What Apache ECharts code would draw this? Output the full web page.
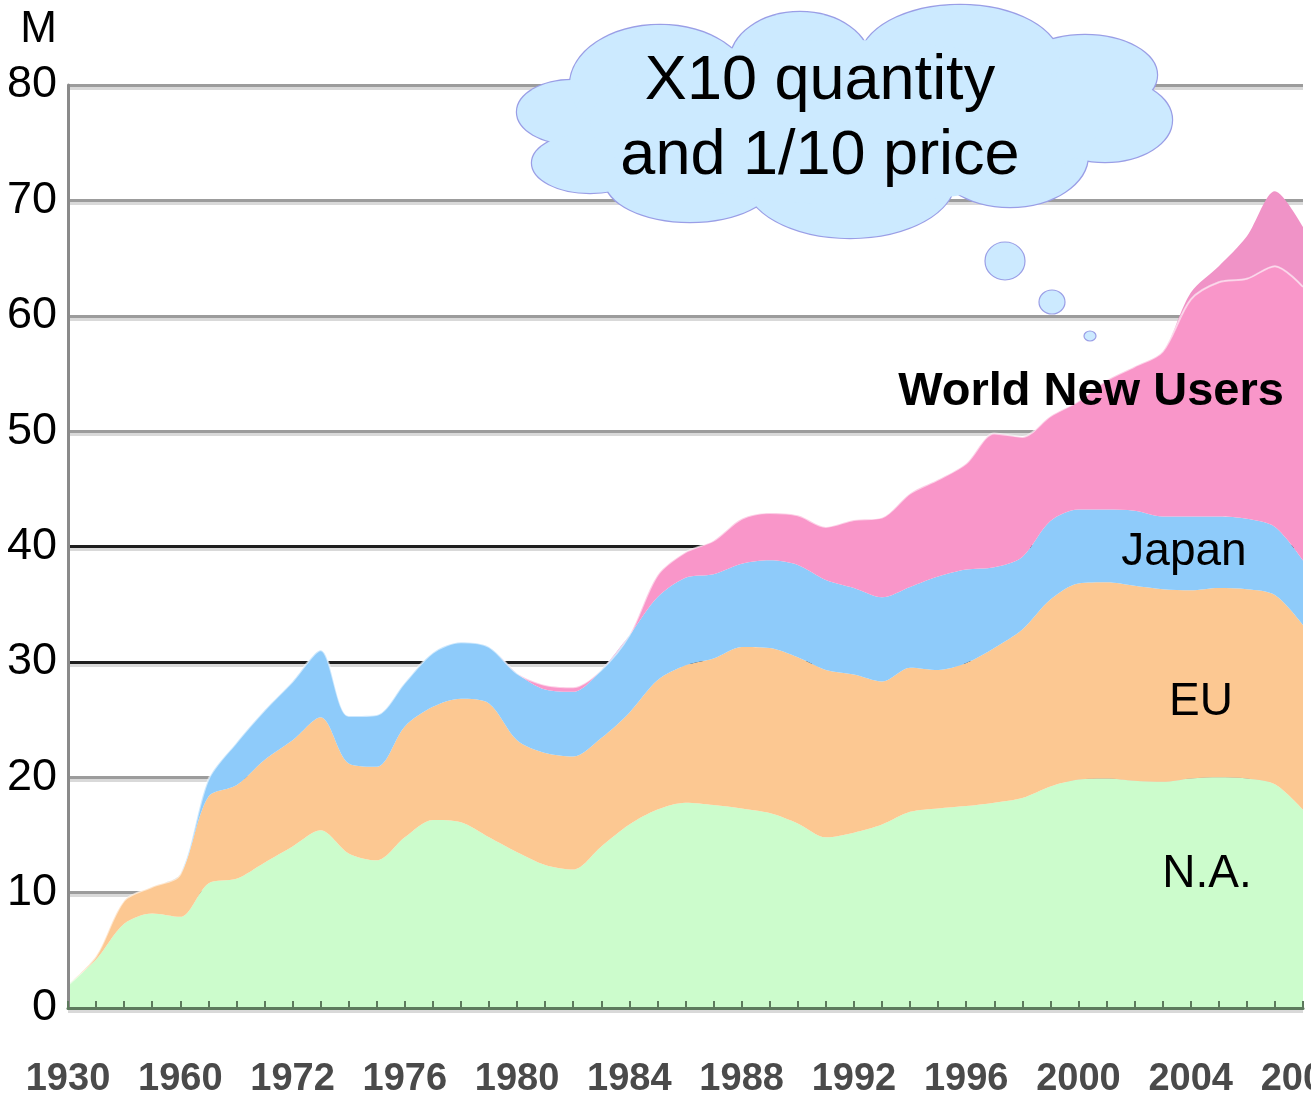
<!DOCTYPE html>
<html>
<head>
<meta charset="utf-8">
<script src="https://cdn.jsdelivr.net/npm/echarts@6/dist/echarts.min.js"></script>
<style>
html,body{margin:0;padding:0;background:#ffffff;}
#chart{width:1311px;height:1103px;}
</style>
</head>
<body>
<div id="chart"></div>
<script>
// ---- data ----
const tickLabels = ['1930','1960','1972','1976','1980','1984','1988','1992','1996','2000','2004','2008'];
// 45 evenly spaced slots on the time axis (one per tick mark); every 4th carries a tick label
const slots = ['0','1','2','3','4','5','6','7','8','9','10','11','12','13','14','15','16','17','18','19','20','21','22','23','24','25','26','27','28','29','30','31','32','33','34','35','36','37','38','39','40','41','42','43','44'];

const naValues = [2.0,4.2,7.3,8.2,7.9,10.8,11.2,12.6,14.0,15.4,13.4,12.8,14.8,16.3,16.1,14.8,13.5,12.4,12.0,14.0,15.9,17.2,17.8,17.6,17.3,16.9,16.0,14.8,15.2,15.9,17.0,17.3,17.5,17.8,18.2,19.2,19.8,19.9,19.7,19.6,19.9,20.0,19.9,19.4,17.2];
const euValues = [0.0,0.3,2.0,2.3,3.7,7.5,8.1,8.9,9.2,9.8,7.8,8.1,9.6,9.8,10.7,11.6,9.7,9.7,9.8,9.4,9.7,11.2,11.9,12.7,14.0,14.3,14.4,14.5,13.7,12.4,12.5,12.0,12.4,13.4,14.6,16.2,17.0,17.0,16.9,16.7,16.3,16.4,16.4,16.4,16.0];
const japanValues = [0,0,0,0,0,1.5,3.7,4.3,5.1,5.8,4.1,4.5,3.8,4.7,4.9,4.9,5.8,5.5,5.6,5.9,6.7,7.2,7.6,7.3,7.2,7.6,8.0,7.8,7.5,7.3,7.0,8.1,8.1,7.0,6.3,6.8,6.4,6.3,6.5,6.3,6.4,6.2,6.1,5.9,5.6];
const worldValues = [0,0,0,0,0,0,0,0,0,0,0,0,0,0,0,0,0,0.4,0.4,0,0,1.9,2.2,2.9,3.9,4.1,4.3,4.6,5.9,6.9,8.1,8.4,9.2,11.6,10.4,9.1,9.4,11.2,12.5,14.3,18.8,20.3,20.8,22.6,23.7];
const worldTopValues = [0,0,0,0,0,0,0,0,0,0,0,0,0,0,0,0,0,0,0,0,0,0,0,0,0,0,0,0,0,0,0,0,0,0,0,0,0,0,0,0,0.6,1.4,3.7,6.5,5.2];

// ---- styles ----
const FONT = '"Liberation Sans", Arial, Helvetica, sans-serif';
const GREY = '#9c9c9c';
const DARK = '#1e1e1e';
const CLOUD_FILL = '#cceaff';
const CLOUD_STROKE = '#9a9ee6';

function areaSeries(name, data, color, lineStyle) {
  return {
    name: name,
    type: 'line',
    stack: 'total',
    data: data,
    smooth: 0.3,
    symbol: 'none',
    showSymbol: false,
    lineStyle: lineStyle || { width: 0 },
    areaStyle: { color: color, opacity: 1 },
    itemStyle: { color: color },
    emphasis: { disabled: true },
    silent: true,
    z: 2
  };
}

// cloud bumps (decoration)
const bumps = [
  [572,112,55,32],[590,163,58,30],[690,180,85,42],[850,180,105,58],
  [1010,155,78,52],[1105,120,67,42],[1085,75,72,40],[960,60,100,55],
  [800,62,70,50],[660,85,90,60]
];
const graphics = [];
bumps.forEach(b => graphics.push({
  type: 'ellipse', z: 100, silent: true,
  shape: { cx: b[0], cy: b[1], rx: b[2], ry: b[3] },
  style: { fill: CLOUD_FILL, stroke: CLOUD_STROKE, lineWidth: 2.4 }
}));
bumps.forEach(b => graphics.push({
  type: 'ellipse', z: 101, silent: true,
  shape: { cx: b[0], cy: b[1], rx: b[2], ry: b[3] },
  style: { fill: CLOUD_FILL }
}));
graphics.push({
  type: 'ellipse', z: 101, silent: true,
  shape: { cx: 845, cy: 122, rx: 255, ry: 82 },
  style: { fill: CLOUD_FILL }
});
[[1005,261,20,19],[1052,302,13,12],[1090,336,6,5]].forEach(b => graphics.push({
  type: 'ellipse', z: 100, silent: true,
  shape: { cx: b[0], cy: b[1], rx: b[2], ry: b[3] },
  style: { fill: CLOUD_FILL, stroke: CLOUD_STROKE, lineWidth: 1.2 }
}));
graphics.push({
  type: 'text', z: 102, silent: true, x: 820, y: 119,
  style: { text: 'X10 quantity\nand 1/10 price', fontSize: 63, fontFamily: FONT,
           fill: '#000', align: 'center', verticalAlign: 'middle', lineHeight: 75 }
});
const labels = [
  ['World New Users', 1091, 392, 'bold', 47],
  ['Japan', 1184, 552, 'normal', 46],
  ['EU', 1201, 702, 'normal', 46],
  ['N.A.', 1207, 874, 'normal', 46]
];
labels.forEach(l => graphics.push({
  type: 'text', z: 102, silent: true, x: l[1], y: l[2],
  style: { text: l[0], fontSize: l[4], fontWeight: l[3], fontFamily: FONT,
           fill: '#000', align: 'center', verticalAlign: 'middle' }
}));

const chart = echarts.init(document.getElementById('chart'), null, { renderer: 'canvas' });
chart.setOption({
  animation: false,
  backgroundColor: '#ffffff',
  grid: { left: 68, right: 8, top: 85, bottom: 95, containLabel: false, outerBoundsMode: 'none' },
  xAxis: {
    type: 'category',
    data: slots,
    boundaryGap: false,
    z: 10,
    axisLine: { show: true, lineStyle: { color: '#5d7a5d', width: 3 } },
    axisTick: { show: true, inside: true, interval: 0, length: 7, lineStyle: { color: '#5d7a5d', width: 2 } },
    axisLabel: {
      interval: 3, margin: 53, fontSize: 38, fontWeight: 'bold', color: '#4a4a4a', fontFamily: FONT,
      formatter: function (v, i) { const t = tickLabels[i / 4]; return t === undefined ? '' : t; }
    },
    splitLine: { show: false }
  },
  yAxis: [{
    type: 'value', min: 0, max: 80, interval: 10, z: 0,
    name: 'M', nameLocation: 'end', nameGap: 33,
    nameTextStyle: { fontSize: 44, color: '#000', fontFamily: FONT, align: 'right', padding: [0, 11, 0, 0] },
    axisLine: { show: false }, axisTick: { show: false },
    axisLabel: { fontSize: 45, color: '#000', margin: 11, fontFamily: FONT },
    splitLine: { show: true, lineStyle: {
      color: [GREY, GREY, GREY, DARK, DARK, GREY, GREY, GREY, GREY], width: 3,
      shadowColor: '#d9d9d9', shadowOffsetY: 3, shadowBlur: 0 } }
  }, {
    type: 'value', min: 0, max: 80, interval: 10, position: 'left', z: 10,
    axisLine: { show: true, lineStyle: { color: '#8a8a8a', width: 3 } },
    axisTick: { show: false }, axisLabel: { show: false }, splitLine: { show: false }
  }],
  series: [
    areaSeries('N.A.', naValues, '#ccfccc'),
    areaSeries('EU', euValues, '#fcc892'),
    areaSeries('Japan', japanValues, '#8ecbfa'),
    areaSeries('World New Users', worldValues, '#f996c9', { width: 2, color: 'rgba(255,255,255,0.55)' }),
    areaSeries('World New Users (recent)', worldTopValues, '#f093c7')
  ],
  graphic: graphics
});
</script>
</body>
</html>
